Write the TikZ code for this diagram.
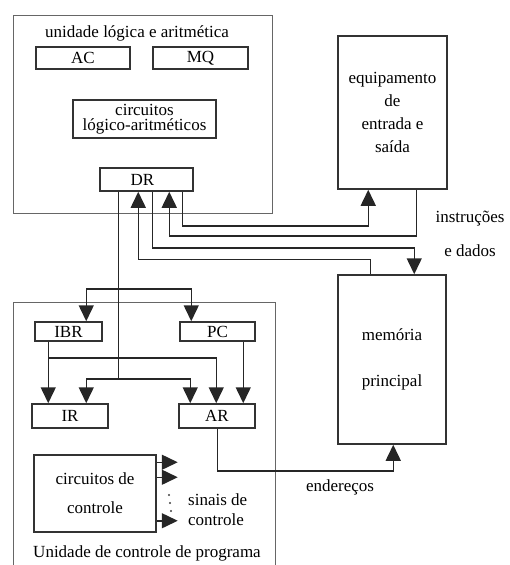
\documentclass[tikz,border=0pt]{standalone}
\usepackage{fontspec}
\setmainfont{Liberation Serif}
\usetikzlibrary{arrows.meta,calc}
\begin{document}
\begin{tikzpicture}[x=1pt,y=-1pt,
  font=\rmfamily\fontsize{17}{20}\selectfont,
  box/.style={draw=black!80,line width=1.5pt,inner sep=0pt,align=center},
  outerbox/.style={draw=black!60,line width=1pt,inner sep=0pt},
  txt/.style={inner sep=0pt,align=center},
  conn/.style={draw=black!85,line width=1.5pt},
  arr/.style={conn,-{Triangle[length=16pt,width=15pt]}}]
\useasboundingbox (0,0) rectangle (509,565);
% ALU
\node[outerbox,minimum width=259,minimum height=198] (alu) at (142.5,114) {};
\node[txt] (alut) at (137,33) {unidade lógica e aritmética};
\node[box,minimum width=94,minimum height=22] (AC) at (83,58) {AC};
\node[box,minimum width=95,minimum height=22] (MQ) at (200.5,58) {MQ};
\node[box,minimum width=143,minimum height=38,font=\rmfamily\fontsize{17}{15.5}\selectfont] (circ) at (144.5,119) {circuitos\\lógico-aritméticos};
\node[box,minimum width=93,minimum height=23] (DR) at (146.5,179.5) {\hspace*{-8pt}DR};
% I/O and memory
\node[box,minimum width=109,minimum height=153,font=\rmfamily\fontsize{17}{23}\selectfont] (IO) at (392.5,112.5) {equipamento\\de\\entrada e\\saída};
\node[box,minimum width=108,minimum height=169,font=\rmfamily\fontsize{17}{46}\selectfont] (mem) at (392,359.5) {memória\\principal};
% control unit
\draw[draw=black!60,line width=1pt] (13,566) coordinate (cu1) -- (13,302) -- (275,302) -- (275,566);
\node[box,minimum width=67,minimum height=19] (IBR) at (68.5,331.5) {IBR};
\node[box,minimum width=75,minimum height=19] (PC) at (217.5,331.5) {PC};
\node[box,minimum width=76,minimum height=24] (IR) at (70,416) {IR};
\node[box,minimum width=76,minimum height=24] (AR) at (217,416) {AR};
\node[box,minimum width=122,minimum height=77,font=\rmfamily\fontsize{17}{29}\selectfont] (cc) at (95,493.5) {circuitos de\\controle};
\node[txt] (cut) at (147,553) {Unidade de controle de programa};
% labels
\node[txt] (l1) at (470,219) {instruções};
\node[txt] (l2) at (470,251) {e dados};
\node[txt] (l3) at (340,487) {endereços};
\node[txt,anchor=west,align=left] (l4) at (188,510) {sinais de\\controle};
% DR <-> I/O
\draw[arr] ([xshift=83]DR.south west) -- ++(0,34) -| ([xshift=31]IO.south west);
\draw[arr] ([xshift=79]IO.south west) -- ++(0,46) -| ([xshift=70]DR.south west);
% DR <-> memory
\draw[arr] ([xshift=53]DR.south west) -- ++(0,56) -| ([xshift=77]mem.north west);
\draw[arr] ([xshift=33]mem.north west) -- ++(0,-15) -| ([xshift=39]DR.south west);
% DR bus to control unit
\path ([xshift=19]DR.south west) coordinate (b0) ++(0,97) coordinate (b1) ++(0,90) coordinate (b2);
\draw[conn] (b0) -- (b2);
\draw[arr] (b1) -| ([xshift=52]IBR.north west);
\draw[arr] (b1) -| ([xshift=12]PC.north west);
\draw[arr] (b2) -| ([xshift=55]IR.north west);
\draw[arr] (b2) -| ([xshift=12]AR.north west);
% IBR, PC
\draw[arr] ([xshift=14]IBR.south west) coordinate (ib) -- (ib |- IR.north);
\draw[arr] (ib) ++(0,16) -| ([xshift=38]AR.north west);
\draw[arr] ([xshift=64]PC.south west) coordinate (pc) -- (pc |- AR.north);
% AR -> memory
\draw[arr] ([xshift=39]AR.south west) -- ++(0,42) -| ([xshift=56]mem.south west);
% control signals
\draw[arr] ([yshift=-8pt]cc.north east) -- ++(21,0);
\draw[arr] ([yshift=-23pt]cc.north east) -- ++(21,0);
\draw[arr] ([yshift=12pt]cc.south east) -- ++(21,0);
\fill[black!75] (169,495) circle (1.1) (170,503) circle (1.1) (171,511) circle (1.1);
\end{tikzpicture}
\end{document}
